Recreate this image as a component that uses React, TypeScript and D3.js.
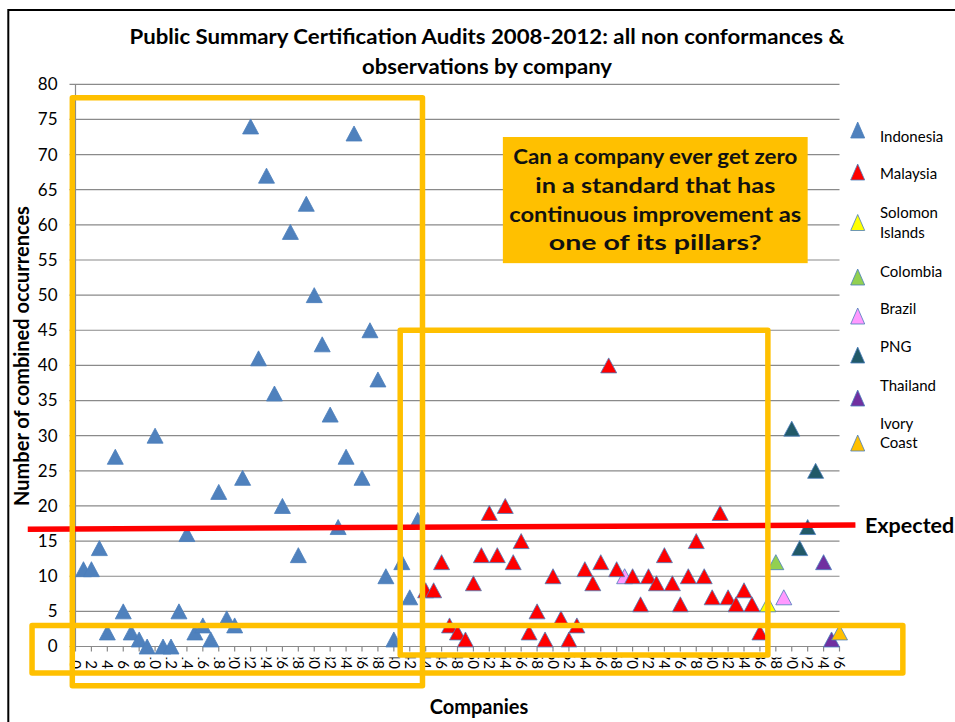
import React from 'react';
import * as d3 from 'd3';

const W = 955;
const H = 722;

// ---------- data ----------
const yTicks = [0, 5, 10, 15, 20, 25, 30, 35, 40, 45, 50, 55, 60, 65, 70, 75, 80];
const xTicks = [0, 2, 4, 6, 8, 10, 12, 14, 16, 18, 20, 22, 24, 26, 28, 30, 32, 34, 36, 38, 40, 42, 44, 46, 48, 50, 52, 54, 56, 58, 60, 62, 64, 66, 68, 70, 72, 74, 76, 78, 80, 82, 84, 86, 88, 90, 92, 94, 96];

const indonesiaCompanies = [1, 2, 3, 4, 5, 6, 7, 8, 9, 10, 11, 12, 13, 14, 15, 16, 17, 18, 19, 20, 21, 22, 23, 24, 25, 26, 27, 28, 29, 30, 31, 32, 33, 34, 35, 36, 37, 38, 39, 40, 41, 42, 43];
const indonesiaValues = [11, 11, 14, 2, 27, 5, 2, 1, 0, 30, 0, 0, 5, 16, 2, 3, 1, 22, 4, 3, 24, 74, 41, 67, 36, 20, 59, 13, 63, 50, 43, 33, 17, 27, 73, 24, 45, 38, 10, 1, 12, 7, 18];

const malaysiaCompanies = [44, 45, 46, 47, 48, 49, 50, 51, 52, 53, 54, 55, 56, 57, 58, 59, 60, 61, 62, 63, 64, 65, 66, 67, 68, 70, 71, 72, 73, 74, 75, 76, 77, 78, 79, 80, 81, 82, 83, 84, 85, 86];
const malaysiaValues = [8, 8, 12, 3, 2, 1, 9, 13, 19, 13, 20, 12, 15, 2, 5, 1, 10, 4, 1, 3, 11, 9, 12, 40, 11, 10, 6, 10, 9, 13, 9, 6, 10, 15, 10, 7, 19, 7, 6, 8, 6, 2];

const solomonCompanies = [87];
const solomonValues = [6];
const colombiaCompanies = [88];
const colombiaValues = [12];
const brazilCompanies = [69, 89];
const brazilValues = [10, 7];
const pngCompanies = [90, 91, 92, 93];
const pngValues = [31, 14, 17, 25];
const thailandCompanies = [94, 95];
const thailandValues = [12, 1];
const ivoryCompanies = [96];
const ivoryValues = [2];

const seriesNames = ['Indonesia', 'Malaysia', 'Solomon Islands', 'Colombia', 'Brazil', 'PNG', 'Thailand', 'Ivory Coast'];
const legendLines = [['Indonesia'], ['Malaysia'], ['Solomon', 'Islands'], ['Colombia'], ['Brazil'], ['PNG'], ['Thailand'], ['Ivory', 'Coast']];
const seriesColors = ['#4F81BD', '#FF0000', '#FFFF00', '#92D050', '#FF99FF', '#215968', '#7030A0', '#FFC000'];

// expected reference line (data units)
const expectedX = [-6, 98];
const expectedY = [16.7, 17.3];

// highlight boxes in data units [x0, x1, yTop, yBottom]
const highlightBoxes = [
  [-0.4, 43.6, 78.1, -5.6],
  [40.8, 87.0, 45.0, -1.2],
  [-5.46, 103.96, 3.0, -3.77],
];
const calloutBox = [53.7, 92.0, 72.5, 54.55];
const calloutLines = ['Can a company ever get zero', 'in a standard that has', 'continuous improvement as', 'one of its pillars?'];

const titleLines = ['Public Summary Certification Audits 2008-2012: all non conformances &', 'observations by company'];

const FONT = 'Lato, "Open Sans", sans-serif';

function tri(cx: number, cy: number, w: number, h: number) {
  return `M${cx},${cy - h / 2}L${cx + w / 2},${cy + h / 2}L${cx - w / 2},${cy + h / 2}Z`;
}

export default function App() {
  const x = d3.scaleLinear().domain([0, 96]).range([75.5, 839.5]);
  const y = d3.scaleLinear().domain([0, 80]).range([646.5, 84.3]);

  const series = [
    { name: 'Brazil', c: brazilCompanies, v: brazilValues, color: seriesColors[4] },
    { name: 'Indonesia', c: indonesiaCompanies, v: indonesiaValues, color: seriesColors[0] },
    { name: 'Malaysia', c: malaysiaCompanies, v: malaysiaValues, color: seriesColors[1] },
    { name: 'Solomon Islands', c: solomonCompanies, v: solomonValues, color: seriesColors[2] },
    { name: 'Colombia', c: colombiaCompanies, v: colombiaValues, color: seriesColors[3] },
    { name: 'PNG', c: pngCompanies, v: pngValues, color: seriesColors[5] },
    { name: 'Thailand', c: thailandCompanies, v: thailandValues, color: seriesColors[6] },
    { name: 'Ivory Coast', c: ivoryCompanies, v: ivoryValues, color: seriesColors[7] },
  ];

  const line = d3.line<number>().x((d) => x(d)).y((_, i) => y(expectedY[i]));

  const [x0, x1] = x.range();
  const y0 = y(0);

  const legendY = [130, 172, 222.5, 277, 316, 355, 398, 443];
  const legendTextY = [141.5, 178.5, [218, 237.5], 277, 313.5, 352, 391, [428.5, 448]];

  const cb = calloutBox;
  const cbX = x(cb[0]);
  const cbW = x(cb[1]) - x(cb[0]);
  const cbY = y(cb[2]);
  const cbH = y(cb[3]) - y(cb[2]);

  const titleLens = [715, 250];
  const calloutLens = [284, 240, 292, 213];

  return (
    <svg width={W} height={H} style={{ position: 'absolute', left: 0, top: 0, background: '#fff' }} fontFamily={FONT}>
      <defs>
        <clipPath id="xlabclip">
          <rect x={0} y={657.5} width={W} height={30} />
        </clipPath>
      </defs>
      <rect x={0} y={0} width={W} height={H} fill="#fff" />
      <rect x={8.3} y={10} width={1000} height={1000} fill="none" stroke="#000" strokeWidth={2} />

      {/* gridlines + y ticks */}
      {yTicks.map((t) => (
        <g key={t}>
          <line x1={x0 - 6} x2={x1} y1={y(t)} y2={y(t)} stroke="#8a8a8a" strokeWidth={1.2} />
          <text x={57.5} y={y(t)} dy="0.35em" textAnchor="end" fontSize={17} fill="#000">{t}</text>
        </g>
      ))}
      <line x1={x0} x2={x0} y1={y(80)} y2={y0} stroke="#8a8a8a" strokeWidth={1.2} />

      {/* x ticks */}
      {xTicks.map((t) => (
        <line key={t} x1={x(t)} x2={x(t)} y1={y0} y2={y0 + 5} stroke="#8a8a8a" strokeWidth={1.2} />
      ))}
      <g clipPath="url(#xlabclip)">
        {xTicks.map((t) => (
          <text key={t} transform={`translate(${x(t)},669) rotate(90)`} textAnchor="end" dy="0.35em" fontSize={15} fill="#000">{t}</text>
        ))}
      </g>

      {/* points */}
      {series.map((s) => (
        <g key={s.name}>
          {s.c.map((c, i) => (
            <path key={i} d={tri(x(c), y(s.v[i]), 16, 15)} fill={s.color} stroke="#4A7EBB" strokeWidth={0.8} />
          ))}
        </g>
      ))}

      {/* expected line */}
      <path d={line(expectedX) || ''} stroke="#FF0000" strokeWidth={5.5} fill="none" />
      <text x={865} y={533} fontSize={21.5} fontWeight="bold" fill="#000">Expected</text>

      {/* highlight boxes */}
      {highlightBoxes.map((b, i) => (
        <rect key={i} x={x(b[0])} y={y(b[2])} width={x(b[1]) - x(b[0])} height={y(b[3]) - y(b[2])} fill="none" stroke="#FFC000" strokeWidth={5.5} strokeLinejoin="round" />
      ))}

      {/* callout */}
      <rect x={cbX} y={cbY} width={cbW} height={cbH} fill="#FFC000" />
      {calloutLines.map((l, i) => (
        <text key={i} x={cbX + cbW / 2} y={cbY + 27.3 + i * 28.6} textAnchor="middle" fontSize={21.5} fontWeight="bold" fill="#111" textLength={calloutLens[i]} lengthAdjust="spacingAndGlyphs">{l}</text>
      ))}

      {/* legend */}
      {seriesNames.map((n, i) => {
        const ty = legendTextY[i];
        const lines = legendLines[i];
        return (
          <g key={n}>
            <path d={tri(857.7, legendY[i], 14, 16)} fill={seriesColors[i]} stroke="#4A7EBB" strokeWidth={0.8} />
            {lines.map((l, j) => (
              <text key={j} x={880} y={Array.isArray(ty) ? ty[j] : ty} fontSize={15} fill="#000">{l}</text>
            ))}
          </g>
        );
      })}

      {/* titles */}
      {titleLines.map((l, i) => (
        <text key={i} x={487} y={44 + i * 29.5} textAnchor="middle" fontSize={21.5} fontWeight="bold" fill="#000" textLength={titleLens[i]} lengthAdjust="spacingAndGlyphs">{l}</text>
      ))}
      <text transform="translate(29,356) rotate(-90)" textAnchor="middle" fontSize={20} fontWeight="bold" fill="#000">Number of combined occurrences</text>
      <text x={479} y={714} textAnchor="middle" fontSize={20} fontWeight="bold" fill="#000">Companies</text>
    </svg>
  );
}
